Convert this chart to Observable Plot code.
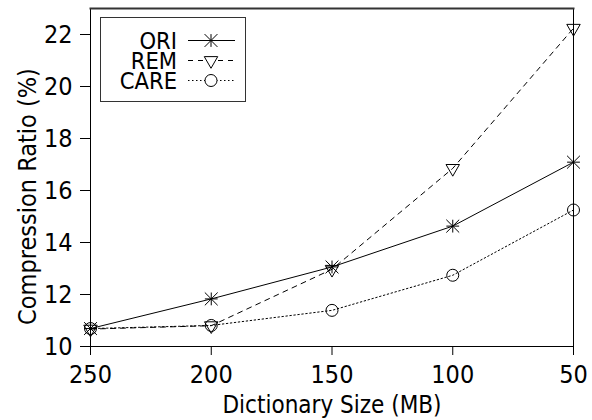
<!DOCTYPE html>
<html>
<head>
<meta charset="utf-8">
<script src="https://cdn.jsdelivr.net/npm/d3@7"></script>
<script src="https://cdn.jsdelivr.net/npm/@observablehq/plot@0.6"></script>
<style>
  html, body { margin: 0; padding: 0; background: #fff; }
  #chart { width: 592px; height: 420px; }
</style>
</head>
<body>
<div id="chart"></div>
<script>
const sizes = [250, 200, 150, 100, 50];
const seriesNames = ["ORI", "REM", "CARE"];
const oriValues = [10.69, 11.83, 13.06, 14.63, 17.09];
const remValues = [10.67, 10.80, 12.97, 16.85, 22.24];
const careValues = [10.69, 10.81, 11.39, 12.74, 15.25];
const yTicks = [10, 12, 14, 16, 18, 20, 22];
const xTicks = [250, 200, 150, 100, 50];
const xLabel = "Dictionary Size (MB)";
const yLabel = "Compression Ratio (%)";

const valuesByName = {ORI: oriValues, REM: remValues, CARE: careValues};
const rows = seriesNames.flatMap(name => sizes.map((s, i) => ({name, size: s, value: valuesByName[name][i]})));
const ori = rows.filter(d => d.name === "ORI");
const rem = rows.filter(d => d.name === "REM");
const care = rows.filter(d => d.name === "CARE");

const FONT = "'DejaVu Sans Condensed', 'DejaVu Sans', sans-serif";

const chart = Plot.plot({
  width: 592,
  height: 420,
  marginLeft: 90,
  marginRight: 19,
  marginTop: 8,
  marginBottom: 74,
  style: {fontFamily: FONT, fontSize: "25px", background: "white", color: "black"},
  x: {type: "linear", domain: [250, 50]},
  y: {type: "linear", domain: [10, 23]},
  marks: [
    Plot.line(care, {x: "size", y: "value", stroke: "black", strokeWidth: 1, strokeDasharray: "1.5,2.5"}),
    Plot.line(rem, {x: "size", y: "value", stroke: "black", strokeWidth: 1, strokeDasharray: "5,5"}),
    Plot.line(ori, {x: "size", y: "value", stroke: "black", strokeWidth: 1}),
    Plot.dot(care, {x: "size", y: "value", symbol: "circle", r: 6, stroke: "black", fill: "none", strokeWidth: 1}),
    Plot.dot(rem, {x: "size", y: "value", symbol: "triangle", rotate: 180, r: 5, stroke: "black", fill: "none", strokeWidth: 1}),
    Plot.dot(ori, {x: "size", y: "value", symbol: "plus", r: 4.2, stroke: "black", strokeWidth: 1}),
    Plot.dot(ori, {x: "size", y: "value", symbol: "times", r: 5.9, stroke: "black", strokeWidth: 1}),
    Plot.frame({anchor: "left", stroke: "black", strokeWidth: 1}),
    Plot.frame({anchor: "right", stroke: "black", strokeWidth: 1}),
    Plot.frame({anchor: "bottom", stroke: "black", strokeWidth: 1}),
    Plot.frame({anchor: "top", stroke: "#333", strokeWidth: 2}),
    Plot.axisY({ticks: yTicks, tickSize: 10, tickPadding: 8, fontSize: 25, label: null, tickFormat: d => String(d)}),
    Plot.axisX({ticks: xTicks, tickSize: 9, tickPadding: 10, fontSize: 25, label: null, tickFormat: d => String(d)}),
    Plot.text([xLabel], {frameAnchor: "bottom", text: d => d, dy: 59, fontSize: 24, textAnchor: "middle", lineAnchor: "middle"}),
    Plot.text([yLabel], {frameAnchor: "left", text: d => d, rotate: -90, dx: -63, dy: 19, fontSize: 25, textAnchor: "middle", lineAnchor: "middle"})
  ]
});

document.getElementById("chart").appendChild(chart);

// Legend (layout only, drawn onto the same SVG)
const svg = d3.select(chart);
const lg = svg.append("g").attr("class", "legend");
lg.append("rect").attr("x", 100.5).attr("y", 17.5).attr("width", 145).attr("height", 84)
  .attr("fill", "white").attr("stroke", "#333").attr("stroke-width", 1);
const dashes = {ORI: null, REM: "5,5", CARE: "1.5,2.5"};
seriesNames.forEach((name, i) => {
  const cy = 40 + i * 20;
  lg.append("text").attr("x", 177).attr("y", cy + 8.5).attr("text-anchor", "end")
    .attr("font-family", FONT).attr("font-size", 23.5).attr("fill", "black").text(name);
  lg.append("line").attr("x1", 188).attr("x2", 235).attr("y1", cy + 0.5).attr("y2", cy + 0.5)
    .attr("stroke", "black").attr("stroke-width", 1).attr("stroke-dasharray", dashes[name]);
  const g = lg.append("g").attr("transform", `translate(211,${cy + 0.5})`);
  if (name === "ORI") {
    g.append("path").attr("d", d3.symbol(d3.symbolPlus, Math.PI * 4.2 * 4.2)()).attr("stroke", "black").attr("fill", "none");
    g.append("path").attr("d", d3.symbol(d3.symbolTimes, Math.PI * 5.9 * 5.9)()).attr("stroke", "black").attr("fill", "none");
  } else if (name === "REM") {
    g.append("path").attr("d", d3.symbol(d3.symbolTriangle, Math.PI * 25)()).attr("transform", "rotate(180)")
      .attr("stroke", "black").attr("fill", "white");
  } else {
    g.append("circle").attr("r", 6).attr("stroke", "black").attr("fill", "white");
  }
});
</script>
</body>
</html>
